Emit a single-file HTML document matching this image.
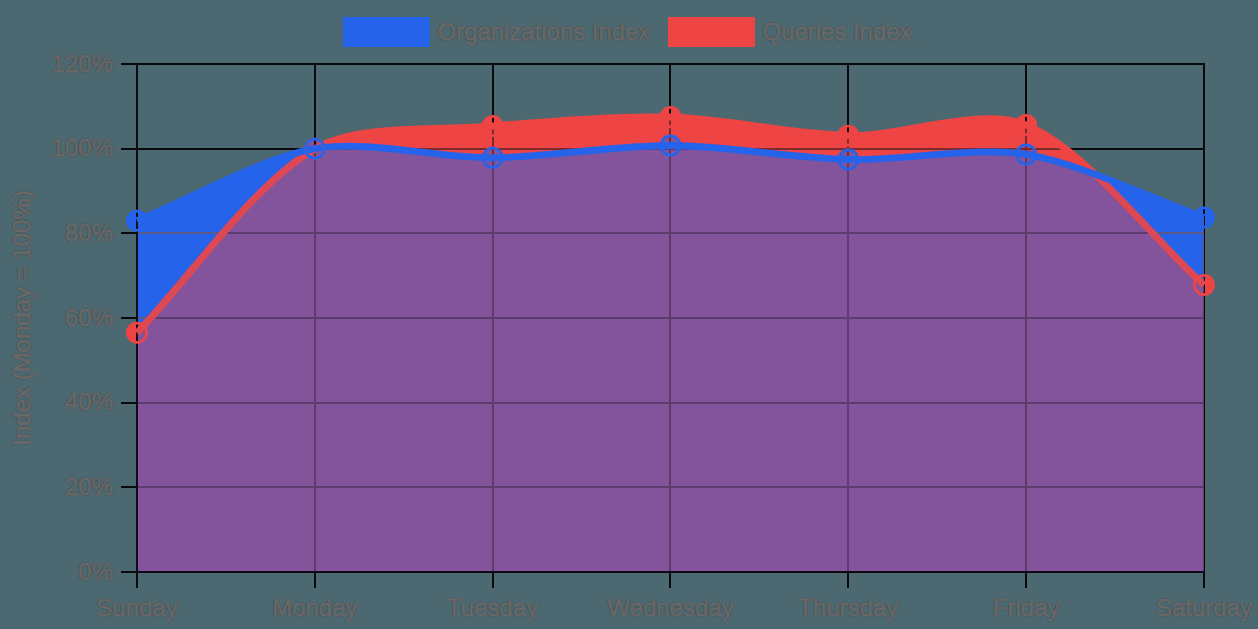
<!DOCTYPE html><html><head><meta charset="utf-8"><style>
html,body{margin:0;padding:0;background:#4c6971;}
body{width:1258px;height:629px;position:relative;overflow:hidden;font-family:"Liberation Sans",sans-serif;font-size:24px;color:#686868;}
.t{position:absolute;white-space:nowrap;line-height:28px;height:28px;-webkit-text-stroke:0.9px #686868;text-shadow:0 0 1.2px rgba(0,0,10,0.95);}
.xl{transform:translateX(-50%);top:593.5px;}
.yl{right:1145px;text-align:right;}
</style></head><body>
<svg width="1258" height="629" viewBox="0 0 1258 629" style="position:absolute;left:0;top:0"><defs><clipPath id="cb"><path d="M137.00,220.70 C190.35,199.10 259.49,158.49 314.83,148.70 C366.19,139.62 439.35,158.28 492.67,157.80 C546.05,157.32 617.17,145.25 670.50,145.50 C723.87,145.76 794.91,158.16 848.33,159.50 C901.61,160.83 974.38,145.97 1026.17,154.40 C1081.08,163.34 1150.65,198.50 1204.00,217.40 L1204.00,572.00 L137.00,572.00 Z"/></clipPath><clipPath id="cr"><path d="M137.00,332.80 C190.35,277.57 252.08,185.19 314.83,148.70 C358.78,123.15 439.14,130.77 492.67,126.00 C545.84,121.26 617.26,115.56 670.50,117.00 C723.96,118.44 794.89,134.40 848.33,135.60 C901.59,136.80 980.62,105.87 1026.17,125.00 C1087.32,150.69 1150.65,237.00 1204.00,285.00 L1204.00,572.00 L137.00,572.00 Z"/></clipPath></defs><rect width="1258" height="629" fill="#4c6971"/><circle cx="137.00" cy="332.80" r="10" fill="#ef4444"/><circle cx="492.67" cy="126.00" r="10" fill="#ef4444"/><circle cx="670.50" cy="117.00" r="10" fill="#ef4444"/><circle cx="848.33" cy="135.60" r="10" fill="#ef4444"/><circle cx="1026.17" cy="125.00" r="10" fill="#ef4444"/><circle cx="1204.00" cy="285.00" r="10" fill="#ef4444"/><circle cx="137.00" cy="220.70" r="10" fill="#2563eb"/><circle cx="492.67" cy="157.80" r="10" fill="#2563eb"/><circle cx="670.50" cy="145.50" r="10" fill="#2563eb"/><circle cx="848.33" cy="159.50" r="10" fill="#2563eb"/><circle cx="1026.17" cy="154.40" r="10" fill="#2563eb"/><circle cx="1204.00" cy="217.40" r="10" fill="#2563eb"/><circle cx="314.83" cy="148.70" r="10" fill="#83549c"/><g fill="#0a0a0c"><rect x="136.00" y="63.00" width="2" height="525.00"/><rect x="314.00" y="63.00" width="2" height="525.00"/><rect x="492.00" y="63.00" width="2" height="525.00"/><rect x="669.00" y="63.00" width="2" height="525.00"/><rect x="847.00" y="63.00" width="2" height="525.00"/><rect x="1025.00" y="63.00" width="2" height="525.00"/><rect x="1203.00" y="63.00" width="2" height="525.00"/><rect x="121.00" y="63.00" width="1084.00" height="2"/><rect x="121.00" y="148.00" width="1084.00" height="2"/><rect x="121.00" y="232.00" width="1084.00" height="2"/><rect x="121.00" y="317.00" width="1084.00" height="2"/><rect x="121.00" y="402.00" width="1084.00" height="2"/><rect x="121.00" y="486.00" width="1084.00" height="2"/><rect x="121.00" y="571.00" width="1084.00" height="2"/></g><path d="M137.00,332.80 C190.35,277.57 252.08,185.19 314.83,148.70 C358.78,123.15 439.14,130.77 492.67,126.00 C545.84,121.26 617.26,115.56 670.50,117.00 C723.96,118.44 794.89,134.40 848.33,135.60 C901.59,136.80 980.62,105.87 1026.17,125.00 C1087.32,150.69 1150.65,237.00 1204.00,285.00 L1204.00,572.00 L137.00,572.00 Z" fill="#ef4444"/><circle cx="137.00" cy="220.70" r="10" fill="#83549c" clip-path="url(#cr)"/><circle cx="314.83" cy="148.70" r="10" fill="#83549c" clip-path="url(#cr)"/><circle cx="492.67" cy="157.80" r="10" fill="#83549c" clip-path="url(#cr)"/><circle cx="670.50" cy="145.50" r="10" fill="#83549c" clip-path="url(#cr)"/><circle cx="848.33" cy="159.50" r="10" fill="#83549c" clip-path="url(#cr)"/><circle cx="1026.17" cy="154.40" r="10" fill="#83549c" clip-path="url(#cr)"/><circle cx="1204.00" cy="217.40" r="10" fill="#83549c" clip-path="url(#cr)"/><path d="M137.00,220.70 C190.35,199.10 259.49,158.49 314.83,148.70 C366.19,139.62 439.35,158.28 492.67,157.80 C546.05,157.32 617.17,145.25 670.50,145.50 C723.87,145.76 794.91,158.16 848.33,159.50 C901.61,160.83 974.38,145.97 1026.17,154.40 C1081.08,163.34 1150.65,198.50 1204.00,217.40 L1204.00,572.00 L137.00,572.00 Z" fill="#2563eb"/><g clip-path="url(#cr)"><path d="M137.00,220.70 C190.35,199.10 259.49,158.49 314.83,148.70 C366.19,139.62 439.35,158.28 492.67,157.80 C546.05,157.32 617.17,145.25 670.50,145.50 C723.87,145.76 794.91,158.16 848.33,159.50 C901.61,160.83 974.38,145.97 1026.17,154.40 C1081.08,163.34 1150.65,198.50 1204.00,217.40 L1204.00,572.00 L137.00,572.00 Z" fill="#83549c"/></g><g clip-path="url(#cr)"><g fill="#7e2a2c"><rect x="136.00" y="63.00" width="2" height="510.00"/><rect x="314.00" y="63.00" width="2" height="510.00"/><rect x="492.00" y="63.00" width="2" height="510.00"/><rect x="669.00" y="63.00" width="2" height="510.00"/><rect x="847.00" y="63.00" width="2" height="510.00"/><rect x="1025.00" y="63.00" width="2" height="510.00"/><rect x="1203.00" y="63.00" width="2" height="510.00"/><rect x="136.00" y="63.00" width="1069.00" height="2"/><rect x="136.00" y="148.00" width="1069.00" height="2"/><rect x="136.00" y="232.00" width="1069.00" height="2"/><rect x="136.00" y="317.00" width="1069.00" height="2"/><rect x="136.00" y="402.00" width="1069.00" height="2"/><rect x="136.00" y="486.00" width="1069.00" height="2"/><rect x="136.00" y="571.00" width="1069.00" height="2"/></g></g><g clip-path="url(#cb)"><g fill="#5a5a88"><rect x="136.00" y="63.00" width="2" height="510.00"/><rect x="314.00" y="63.00" width="2" height="510.00"/><rect x="492.00" y="63.00" width="2" height="510.00"/><rect x="669.00" y="63.00" width="2" height="510.00"/><rect x="847.00" y="63.00" width="2" height="510.00"/><rect x="1025.00" y="63.00" width="2" height="510.00"/><rect x="1203.00" y="63.00" width="2" height="510.00"/><rect x="136.00" y="63.00" width="1069.00" height="2"/><rect x="136.00" y="148.00" width="1069.00" height="2"/><rect x="136.00" y="232.00" width="1069.00" height="2"/><rect x="136.00" y="317.00" width="1069.00" height="2"/><rect x="136.00" y="402.00" width="1069.00" height="2"/><rect x="136.00" y="486.00" width="1069.00" height="2"/><rect x="136.00" y="571.00" width="1069.00" height="2"/></g></g><g clip-path="url(#cr)"><g clip-path="url(#cb)"><g fill="#5d3b6d"><rect x="136.00" y="63.00" width="2" height="510.00"/><rect x="314.00" y="63.00" width="2" height="510.00"/><rect x="492.00" y="63.00" width="2" height="510.00"/><rect x="669.00" y="63.00" width="2" height="510.00"/><rect x="847.00" y="63.00" width="2" height="510.00"/><rect x="1025.00" y="63.00" width="2" height="510.00"/><rect x="1203.00" y="63.00" width="2" height="510.00"/><rect x="136.00" y="63.00" width="1069.00" height="2"/><rect x="136.00" y="148.00" width="1069.00" height="2"/><rect x="136.00" y="232.00" width="1069.00" height="2"/><rect x="136.00" y="317.00" width="1069.00" height="2"/><rect x="136.00" y="402.00" width="1069.00" height="2"/><rect x="136.00" y="486.00" width="1069.00" height="2"/><rect x="136.00" y="571.00" width="1069.00" height="2"/></g></g></g><rect x="136.00" y="63.00" width="2" height="510.00" fill="#0c0a14"/><rect x="136.00" y="571.00" width="1069.00" height="2" fill="#0c0a14"/><path d="M137.00,332.80 C190.35,277.57 252.08,185.19 314.83,148.70 C358.78,123.15 439.14,130.77 492.67,126.00 C545.84,121.26 617.26,115.56 670.50,117.00 C723.96,118.44 794.89,134.40 848.33,135.60 C901.59,136.80 980.62,105.87 1026.17,125.00 C1087.32,150.69 1150.65,237.00 1204.00,285.00" fill="none" stroke="#ef4444" stroke-width="6.8"/><g clip-path="url(#cb)"><path d="M137.00,332.80 C190.35,277.57 252.08,185.19 314.83,148.70 C358.78,123.15 439.14,130.77 492.67,126.00 C545.84,121.26 617.26,115.56 670.50,117.00 C723.96,118.44 794.89,134.40 848.33,135.60 C901.59,136.80 980.62,105.87 1026.17,125.00 C1087.32,150.69 1150.65,237.00 1204.00,285.00" fill="none" stroke="#dc4854" stroke-width="6.8"/></g><path d="M137.00,220.70 C190.35,199.10 259.49,158.49 314.83,148.70 C366.19,139.62 439.35,158.28 492.67,157.80 C546.05,157.32 617.17,145.25 670.50,145.50 C723.87,145.76 794.91,158.16 848.33,159.50 C901.61,160.83 974.38,145.97 1026.17,154.40 C1081.08,163.34 1150.65,198.50 1204.00,217.40" fill="none" stroke="#2563eb" stroke-width="6.8"/><circle cx="137.00" cy="332.80" r="9.6" fill="none" stroke="#ef4444" stroke-width="2.7"/><circle cx="314.83" cy="148.70" r="9.6" fill="none" stroke="#ef4444" stroke-width="2.7"/><circle cx="492.67" cy="126.00" r="9.6" fill="none" stroke="#ef4444" stroke-width="2.7"/><circle cx="670.50" cy="117.00" r="9.6" fill="none" stroke="#ef4444" stroke-width="2.7"/><circle cx="848.33" cy="135.60" r="9.6" fill="none" stroke="#ef4444" stroke-width="2.7"/><circle cx="1026.17" cy="125.00" r="9.6" fill="none" stroke="#ef4444" stroke-width="2.7"/><circle cx="1204.00" cy="285.00" r="9.6" fill="none" stroke="#ef4444" stroke-width="2.7"/><circle cx="137.00" cy="220.70" r="9.6" fill="none" stroke="#2563eb" stroke-width="2.7"/><circle cx="314.83" cy="148.70" r="9.6" fill="none" stroke="#2563eb" stroke-width="2.7"/><circle cx="492.67" cy="157.80" r="9.6" fill="none" stroke="#2563eb" stroke-width="2.7"/><circle cx="670.50" cy="145.50" r="9.6" fill="none" stroke="#2563eb" stroke-width="2.7"/><circle cx="848.33" cy="159.50" r="9.6" fill="none" stroke="#2563eb" stroke-width="2.7"/><circle cx="1026.17" cy="154.40" r="9.6" fill="none" stroke="#2563eb" stroke-width="2.7"/><circle cx="1204.00" cy="217.40" r="9.6" fill="none" stroke="#2563eb" stroke-width="2.7"/><rect x="343" y="17" width="86.7" height="30" fill="#2563eb"/><rect x="668" y="17" width="87" height="30" fill="#ef4444"/></svg>
<div class="t" style="left:437.6px;top:17.6px;letter-spacing:-0.04px">Organizations Index</div>
<div class="t" style="left:762.6px;top:17.6px;letter-spacing:-0.04px">Queries Index</div>
<div class="t xl" style="left:137.00px">Sunday</div>
<div class="t xl" style="left:314.83px">Monday</div>
<div class="t xl" style="left:492.67px">Tuesday</div>
<div class="t xl" style="left:670.50px">Wednesday</div>
<div class="t xl" style="left:848.33px">Thursday</div>
<div class="t xl" style="left:1026.17px">Friday</div>
<div class="t xl" style="left:1204.00px">Saturday</div>
<div class="t yl" style="top:49.50px">120%</div>
<div class="t yl" style="top:134.17px">100%</div>
<div class="t yl" style="top:218.83px">80%</div>
<div class="t yl" style="top:303.50px">60%</div>
<div class="t yl" style="top:388.17px">40%</div>
<div class="t yl" style="top:472.83px">20%</div>
<div class="t yl" style="top:557.50px">0%</div>
<div class="t" style="left:22px;top:318px;transform:translate(-50%,-50%) rotate(-90deg);">Index (Monday = 100%)</div>
</body></html>
